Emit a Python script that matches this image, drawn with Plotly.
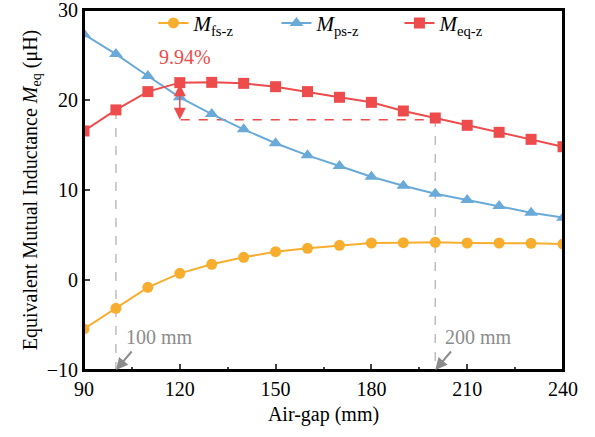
import plotly.graph_objects as go

air_gap = [90, 100, 110, 120, 130, 140, 150, 160, 170, 180, 190, 200, 210, 220, 230, 240]
M_fs = [-5.44, -3.15, -0.81, 0.74, 1.74, 2.52, 3.15, 3.52, 3.85, 4.11, 4.15, 4.19, 4.11, 4.11, 4.07, 4.0]
M_ps = [27.3, 25.1, 22.67, 20.3, 18.44, 16.74, 15.19, 13.85, 12.67, 11.48, 10.48, 9.59, 8.89, 8.22, 7.48, 6.93]
M_eq = [16.56, 18.9, 20.93, 21.93, 21.96, 21.85, 21.48, 20.93, 20.3, 19.74, 18.78, 18.0, 17.19, 16.41, 15.63, 14.81]

x_ticks = [90, 120, 150, 180, 210, 240]
y_ticks = [-10, 0, 10, 20, 30]
names = ["<i>M</i><sub>fs-z</sub>", "<i>M</i><sub>ps-z</sub>", "<i>M</i><sub>eq-z</sub>"]
colors = ["#F7AE2E", "#6AAAD8", "#EE4B4D"]
symbols = ["circle", "triangle-up", "square"]
sizes = [11, 12, 11]
percent_label = "9.94%"
low_level = 17.8
marks = [100, 200]

FONT = "Liberation Serif"
fig = go.Figure()

# grey dashed guide lines
for m in marks:
    yv = M_eq[air_gap.index(m)]
    fig.add_trace(go.Scatter(x=[m, m], y=[yv, -10], mode="lines",
                             line=dict(color="#BDBDBD", width=1.5, dash="dash"),
                             showlegend=False, hoverinfo="skip"))
# red dashed horizontal
fig.add_trace(go.Scatter(x=[120.3, 200], y=[low_level, low_level], mode="lines",
                         line=dict(color="#EE4B4D", width=1.5, dash="dash"),
                         showlegend=False, hoverinfo="skip"))

for ys, nm, c, s, sz in zip([M_fs, M_ps, M_eq], names, colors, symbols, sizes):
    fig.add_trace(go.Scatter(x=air_gap, y=ys, mode="lines+markers", name=nm,
                             line=dict(color=c, width=2),
                             marker=dict(symbol=s, size=sz, color=c)))

# double arrow
fig.add_annotation(x=120, y=low_level, ax=120, ay=M_eq[3], xref="x", yref="y",
                   axref="x", ayref="y", text="", showarrow=True,
                   arrowhead=2, arrowside="end+start", arrowsize=1.6,
                   arrowwidth=1.5, arrowcolor="#EE4B4D")
fig.add_annotation(x=121.5, y=23.3, xref="x", yref="y", text=percent_label,
                   showarrow=False, xanchor="center", yanchor="bottom",
                   font=dict(family=FONT, size=20, color="#EE4B4D"))

# grey arrows + labels
for m in marks:
    fig.add_annotation(x=m, y=-10, xref="x", yref="y", ax=17, ay=-20,
                       text="", showarrow=True, arrowhead=2, arrowsize=1.2,
                       arrowwidth=2, arrowcolor="#8C8C8C")
    fig.add_annotation(x=m + 2.5, y=-6.3, xref="x", yref="y", text=f"{m} mm",
                       showarrow=False, xanchor="left", yanchor="middle",
                       font=dict(family=FONT, size=20, color="#8C8C8C"))

# plot frame
fig.add_shape(type="rect", xref="x domain", yref="y domain", x0=0, x1=1, y0=0, y1=1,
              line=dict(color="black", width=2), fillcolor="rgba(0,0,0,0)", layer="above")

fig.update_layout(
    width=595, height=437,
    margin=dict(l=84, r=32, t=10, b=67, autoexpand=False),
    paper_bgcolor="white", plot_bgcolor="white",
    font=dict(family=FONT, size=20, color="black"),
    legend=dict(orientation="h", x=0.145, y=1.02, xanchor="left", yanchor="top",
                bgcolor="rgba(0,0,0,0)", font=dict(family=FONT, size=21),
                entrywidth=78, entrywidthmode="pixels", tracegroupgap=0),
    showlegend=True,
)
fig.update_xaxes(range=[90, 240], tickvals=x_ticks, ticks="inside", ticklen=6,
                 tickwidth=2, showline=True, linewidth=2, linecolor="black",
                 mirror=True, showgrid=False, zeroline=False,
                 ticklabeloverflow="allow",
                 minor=dict(ticks="inside", ticklen=3, tickwidth=2, dtick=15, tick0=90),
                 title=dict(text="Air-gap (mm)", standoff=8, font=dict(size=20)),
                 tickfont=dict(size=20))
fig.update_yaxes(range=[-10, 30], tickvals=y_ticks,
                 ticks="inside", ticklen=6, ticklabeloverflow="allow",
                 tickwidth=2, showline=True, linewidth=2, linecolor="black",
                 mirror=True, showgrid=False, zeroline=False,
                 title=dict(text="Equivalent Mutual Inductance <i>M</i><sub>eq</sub> (μH)",
                            standoff=4, font=dict(size=20)),
                 tickfont=dict(size=20))

fig.write_html("out.html")
